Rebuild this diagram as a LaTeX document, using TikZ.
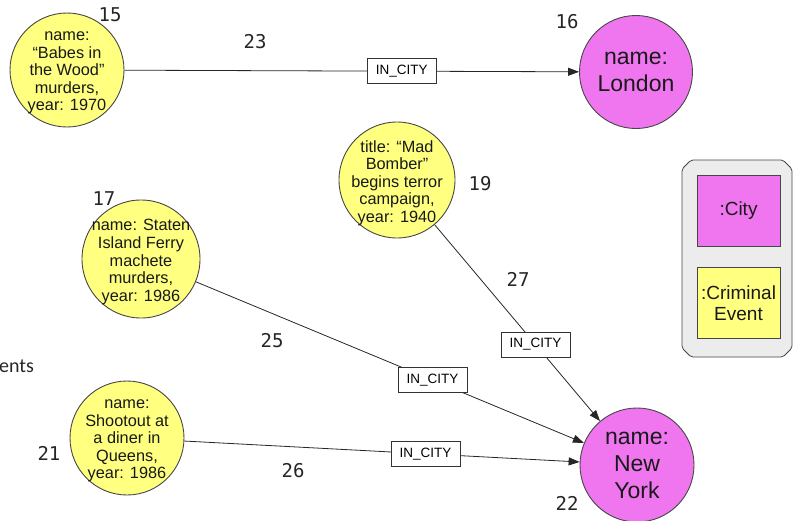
\documentclass[tikz,border=0pt]{standalone}
\usepackage{fontspec}
\setmainfont{Liberation Sans}
\newfontfamily\numfont{DejaVu Sans Mono}
\newfontfamily\slidefont{Carlito}
\usetikzlibrary{arrows.meta}

\definecolor{eventyellow}{RGB}{255,255,128}
\definecolor{citypink}{RGB}{240,118,240}
\definecolor{rimgray}{RGB}{70,70,70}
\definecolor{panelgray}{RGB}{236,236,236}

\tikzset{
  eventnode/.style={circle, draw=rimgray, line width=0.9pt, fill=eventyellow,
    minimum size=#1, inner sep=0pt},
  citynode/.style={circle, draw=rimgray, line width=0.9pt, fill=citypink,
    minimum size=#1, inner sep=0pt},
  eventtext/.style={align=center, font=\fontsize{16.3}{17.6}\selectfont, text=black!90, yshift=-3pt},
  citytext/.style={align=center, font=\fontsize{23}{27}\selectfont, text=black!90},
  relation/.style={draw=black!85, line width=0.8pt, -{Triangle[length=11pt,width=8pt]}},
  reltag/.style={draw=black!80, fill=white, line width=0.8pt, minimum width=69pt,
    minimum height=25pt, inner sep=2pt, font=\fontsize{13.5}{15}\selectfont, pos=0.61},
  idtag/.style={font=\numfont\fontsize{19}{21}\selectfont, text=black!85, inner sep=0pt},
  legendbox/.style={draw=rimgray, line width=0.8pt, minimum width=83pt,
    minimum height=71pt, align=center, font=\fontsize{19}{21}\selectfont, text=black!90}
}

\begin{document}
\begin{tikzpicture}[x=1pt,y=-1pt]
\path[use as bounding box] (0,0) rectangle (795,520);

% criminal events
\node[eventnode=114pt, label={[eventtext]center:{name:\\``Babes in\\the Wood''\\murders,\\year: 1970}}] (babes) at (67,70) {};
\node[eventnode=116pt, label={[eventtext]center:{title: ``Mad\\Bomber''\\begins terror\\campaign,\\year: 1940}}] (bomber) at (397,180) {};
\node[eventnode=118pt, label={[eventtext]center:{name: Staten\\Island Ferry\\machete\\murders,\\year: 1986}}] (ferry) at (141,259) {};
\node[eventnode=114pt, label={[eventtext]center:{name:\\Shootout at\\a diner in\\Queens,\\year: 1986}}] (diner) at (127,438) {};

% cities
\node[citynode=113pt, label={[citytext]center:{name:\\London}}] (london) at (636,72) {};
\node[citynode=114pt, label={[citytext]center:{name:\\New\\York}}] (newyork) at (637,465) {};

% relationships
\draw[relation] (babes) -- node[reltag] {IN\_CITY} (london);
\draw[relation] (bomber) -- node[reltag] {IN\_CITY} (newyork);
\draw[relation] (ferry) -- node[reltag] {IN\_CITY} (newyork);
\draw[relation] (diner) -- node[reltag] {IN\_CITY} (newyork);

% identifiers
\node[idtag] (id15) at (110,15) {15};
\node[idtag] (id16) at (567,22) {16};
\node[idtag] (id17) at (104,199) {17};
\node[idtag] (id19) at (480,184) {19};
\node[idtag] (id21) at (49,453) {21};
\node[idtag] (id22) at (567,503) {22};
\node[idtag] (id23) at (255,42) {23};
\node[idtag] (id25) at (272,341) {25};
\node[idtag] (id26) at (293,471) {26};
\node[idtag] (id27) at (518,279) {27};

% legend panel with cut corners
\draw[rimgray, fill=panelgray, line width=0.8pt, rounded corners=2pt]
  (691,160) -- (783,160) -- (792,169) -- (792,348) -- (783,357)
  -- (691,357) -- (682,348) -- (682,169) -- cycle;
\node[legendbox, fill=citypink] (citykey) at (738.5,211) {:City};
\node[legendbox, fill=eventyellow] (eventkey) at (738.5,303) {:Criminal\\Event};

% slide text at the edge
\node[font=\slidefont\fontsize{20}{24}\selectfont, anchor=west, inner sep=0pt, text=black!85] (slidetext) at (-1,366) {ents};
\end{tikzpicture}
\end{document}
